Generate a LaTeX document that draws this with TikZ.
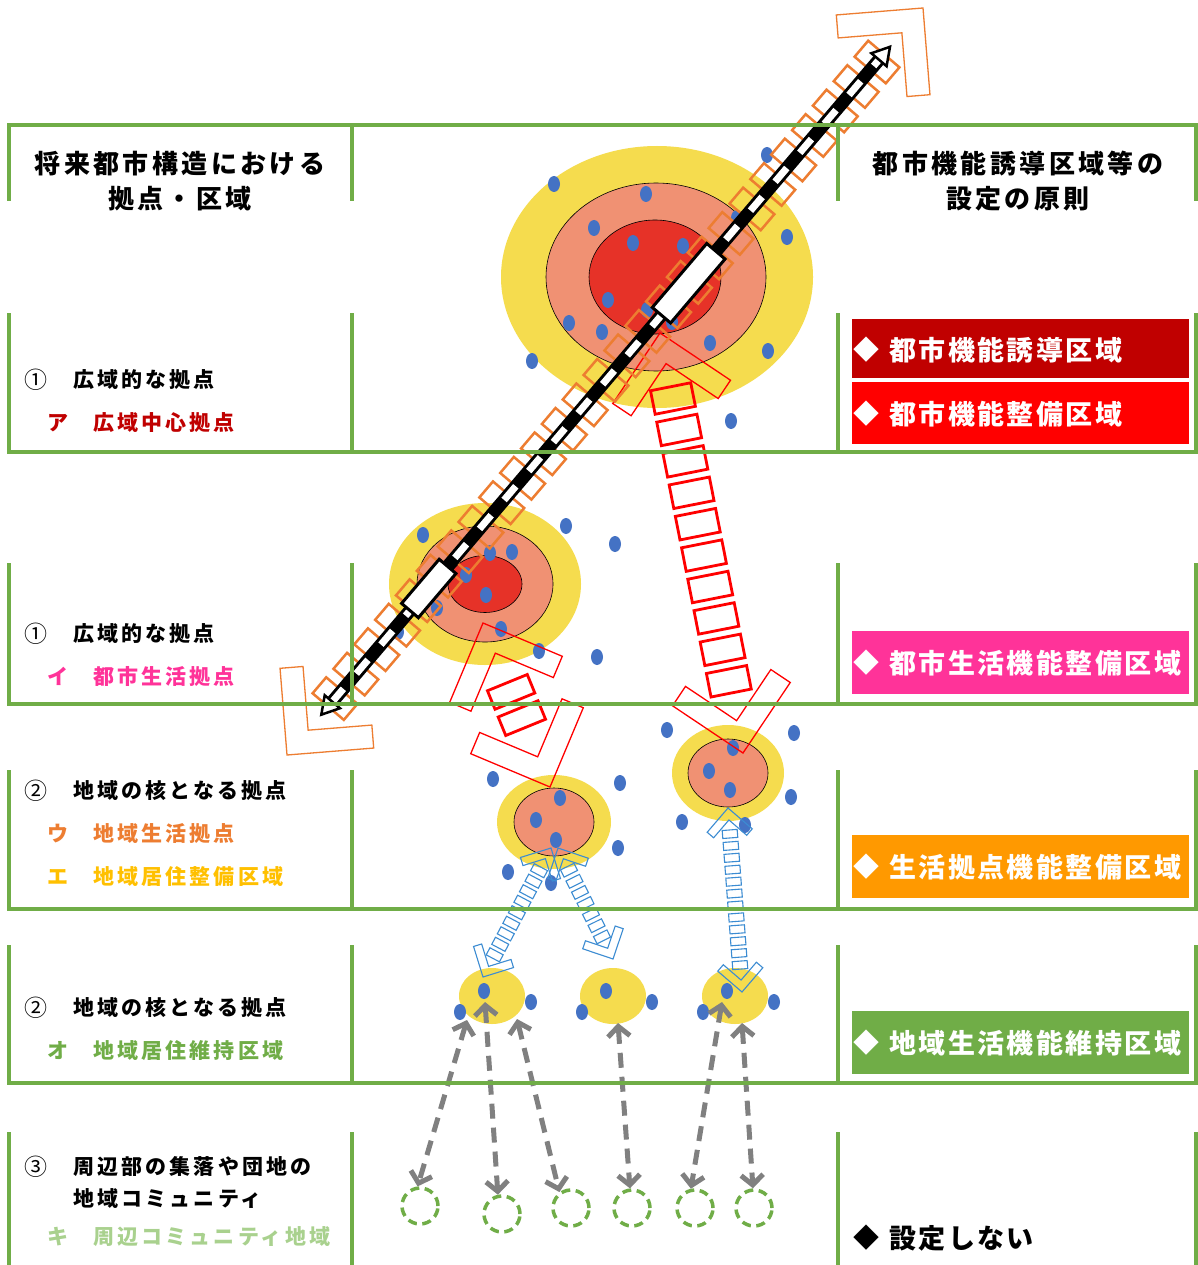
\documentclass[tikz,border=0pt]{standalone}
\usepackage{fontspec}
\setmainfont{Noto Sans CJK JP}
\usetikzlibrary{shapes.geometric,arrows.meta,calc}
\definecolor{tgreen}{HTML}{70AD47}
\definecolor{torange}{HTML}{ED7D31}
\definecolor{tyellow}{RGB}{245,220,78}
\definecolor{tsalmon}{RGB}{240,145,115}
\definecolor{tred}{RGB}{230,50,40}
\definecolor{tblue}{HTML}{4472C4}
\definecolor{lblue}{RGB}{60,140,210}
\definecolor{tgray}{RGB}{128,128,128}
\definecolor{dred}{HTML}{C00000}
\definecolor{tpink}{HTML}{FF3399}
\definecolor{tgold}{HTML}{FFC000}
\definecolor{tlgreen}{HTML}{A9D18E}
\definecolor{bred}{HTML}{FF0000}
\definecolor{borange}{HTML}{FF9900}
\tikzset{
  cha/.store in=\chA, cht/.store in=\chT, cha=40, cht=10,
  chev/.pic={\draw[pic actions, line join=miter] (0,0) -- (-\chA,\chA) -- ({-\chA-\chT},{\chA-\chT}) -- ({-2*\chT},0) -- ({-\chA-\chT},{-\chA+\chT}) -- (-\chA,-\chA) -- cycle;},
  railtip/.pic={\draw[black, fill=white, line width=2.5, line join=miter] (0,0) -- (-17,10) -- (-17,-10) -- cycle;},
  ell/.style={ellipse, inner sep=0, outer sep=0},
  ring/.style={ell, draw=black, line width=0.6},
  dot/.style={ellipse, inner sep=0, fill=tblue, minimum width=12, minimum height=16},
  cdash/.style={circle, draw=tgreen, line width=3.5, dash pattern=on 9pt off 5.5pt, minimum size=36, inner sep=0},
  garrow/.style={tgray, line width=5, dash pattern=on 15pt off 9pt, arrows={Straight Barb[length=10pt,width=22pt]-Straight Barb[length=10pt,width=22pt]}},
  obox/.style={draw=torange, line width=2.5, minimum width=21, minimum height=41, inner sep=0, sloped, allow upside down},
  rbox/.style={draw=bred, line width=2.8, minimum width=24, minimum height=41, inner sep=0, sloped, allow upside down},
  bbox/.style={draw=lblue, line width=1.1, minimum width=8, minimum height=15, inner sep=0, sloped, allow upside down},
  wrect/.style={draw=black, fill=white, line width=3, inner sep=0, sloped, allow upside down},
  ochev/.style={sloped, allow upside down, torange, line width=1.3, cha=61.5, cht=16.3},
  rchev/.style={sloped, allow upside down, bred, line width=1.3, cha=60, cht=16.5},
  bchev/.style={sloped, allow upside down, lblue, line width=1.1, cha=22.6, cht=6},
  num/.style={inner sep=0, anchor=west, font=\fontsize{23}{25}\selectfont},
  lbl/.style={inner sep=0, anchor=west, font=\fontsize{21}{25}\selectfont\bfseries\addfontfeature{LetterSpace=15}},
  hdr/.style={align=center, inner sep=0, font=\fontsize{26}{35}\selectfont\bfseries\addfontfeature{LetterSpace=13}},
  colbox/.style={inner sep=0, minimum width=337},
  dia/.style={inner sep=0, anchor=west, font=\fontsize{26}{30}\selectfont},
  btxt/.style={inner sep=0, anchor=west, font=\fontsize{27}{30}\selectfont\bfseries\addfontfeature{LetterSpace=9}},
}
\begin{document}
\begin{tikzpicture}[x=1pt,y=-1pt]
\useasboundingbox (0,0) rectangle (1198,1265);
\fill[white] (0,0) rectangle (1198,1265);

% ---- zones (ellipses)
\node[ell, fill=tyellow, minimum width=312, minimum height=262] (bigY) at (657,277) {};
\node[ring, fill=tsalmon, minimum width=220, minimum height=188] (bigS) at (656,277) {};
\node[ring, fill=tred, minimum width=132, minimum height=114] (bigR) at (655,277) {};
\node[ell, fill=tyellow, minimum width=192, minimum height=162] (midY) at (485,584) {};
\node[ring, fill=tsalmon, minimum width=136, minimum height=116] (midS) at (485,584) {};
\node[ring, fill=tred, minimum width=74, minimum height=57] (midR) at (485,584) {};
\node[ell, fill=tyellow, minimum width=114, minimum height=94] (uY) at (554,822) {};
\node[ring, fill=tsalmon, minimum width=80, minimum height=68] (uS) at (554,822) {};
\node[ell, fill=tyellow, minimum width=112, minimum height=96] (rY) at (728,773) {};
\node[ring, fill=tsalmon, minimum width=80, minimum height=68] (rS) at (728,773) {};
\node[ell, fill=tyellow, minimum width=66, minimum height=56] (o1) at (492,996) {};
\node[ell, fill=tyellow, minimum width=66, minimum height=56] (o2) at (613,996) {};
\node[ell, fill=tyellow, minimum width=66, minimum height=56] (o3) at (735,996) {};

% ---- dots
\foreach \p [count=\k] in {(554,184),(646,194),(594,228),(633,243),(683,246),(767,155),(787,237),(608,300),(569,323),(602,332),(710,343),(768,351),(532,361),(731,421),(737,218),(647,310),(672,322),
 (423,535),(566,526),(615,544),(512,552),(490,553),(466,575),(486,595),(437,608),(501,629),(539,651),(597,657),(398,632),
 (493,779),(620,783),(560,798),(536,820),(618,848),(556,840),(508,872),(551,883),(667,730),(794,733),(733,748),(709,771),(730,790),(791,797),(682,822),(745,825),
 (484,991),(460,1012),(531,1002),(606,991),(582,1012),(652,1002),(727,991),(703,1012),(774,1002)}
  \node[dot] (d\k) at \p {};

% ---- community circles
\node[cdash] (c1) at (420,1206) {};
\node[cdash] (c2) at (502,1214) {};
\node[cdash] (c3) at (571,1208) {};
\node[cdash] (c4) at (632,1208) {};
\node[cdash] (c5) at (695,1208) {};
\node[cdash] (c6) at (754,1208) {};

% ---- gray dashed arrows
\coordinate (g1) at (467,1020);
\coordinate (g2) at (485,1002);
\coordinate (g3) at (517,1019);
\coordinate (g4) at (618,1023);
\coordinate (g5) at (722,1002);
\coordinate (g6) at (742,1023);
\draw[garrow] (g1) -- (c1.97);
\draw[garrow] (g2) -- (c2.102);
\draw[garrow] (g3) -- (c3.126);
\draw[garrow] (g4) -- (c4.96);
\draw[garrow] (g5) -- (c5.102);
\draw[garrow] (g6) -- (c6.93);

% ---- blue chains
\coordinate (B1A) at (551,848); \coordinate (B1B) at (483,977);
\coordinate (B2A) at (558,848); \coordinate (B2B) at (613,959);
\coordinate (B3A) at (728,808); \coordinate (B3B) at (742,992);
\foreach \i [evaluate=\i as \tp using 0.176+\i*0.0815] in {0,...,8}
  \path (B1A) -- (B1B) node[bbox, pos=\tp] (bl\i) {};
\foreach \i [evaluate=\i as \tp using 0.2+\i*0.1] in {0,...,6}
  \path (B2A) -- (B2B) node[bbox, pos=\tp] (bm\i) {};
\foreach \i [evaluate=\i as \tp using 0.141+\i*0.0648] in {0,...,11}
  \path (B3A) -- (B3B) node[bbox, pos=\tp] (br\i) {};
\path (B1A) -- (B1B) pic[pos=1, bchev] {chev};
\path (B1B) -- (B1A) pic[pos=1, bchev] {chev};
\path (B2A) -- (B2B) pic[pos=1, bchev] {chev};
\path (B2B) -- (B2A) pic[pos=1, bchev] {chev};
\path (B3A) -- (B3B) pic[pos=1, bchev] {chev};
\path (B3B) -- (B3A) pic[pos=1, bchev] {chev};

% ---- red chains
\coordinate (RA) at (660,333); \coordinate (RB) at (743,753);
\foreach \i [evaluate=\i as \tp using 0.156+\i*0.0748] in {0,...,9}
  \path (RA) -- (RB) node[rbox, pos=\tp] (rr\i) {};
\path (RA) -- (RB) pic[pos=1, rchev] {chev};
\path (RB) -- (RA) pic[pos=1, rchev, cht=15.6] {chev};
\coordinate (QA) at (483,623); \coordinate (QB) at (550,787);
\path (QA) -- (QB) node[rbox, minimum width=20, minimum height=43, pos=0.42] (rq1) {}
                   node[rbox, minimum width=20, minimum height=43, pos=0.58] (rq2) {};
\path (QA) -- (QB) pic[pos=1, rchev, cha=60.8, cht=16.3] {chev};
\path (QB) -- (QA) pic[pos=1, rchev, cha=60.8, cht=16.3] {chev};

% ---- orange chain along railway
\coordinate (O1) at (287,755); \coordinate (O2) at (923,8);
\foreach \i [evaluate=\i as \tp using 0.0755+\i*0.03277] in {0,...,26}
  \path (O1) -- (O2) node[obox, pos=\tp] (ob\i) {};
\path (O1) -- (O2) pic[pos=1, ochev] {chev};
\path (O2) -- (O1) pic[pos=1, ochev] {chev};

% ---- railway
\coordinate (rb) at (321.3,714.7); \coordinate (rt) at (890,46.8);
\draw[line width=13] ($(rb)!14pt!(rt)$) -- ($(rt)!14pt!(rb)$);
\draw[white, line width=7, dash pattern=on 18pt off 20pt] ($(rb)!16pt!(rt)$) -- ($(rt)!16pt!(rb)$);
\path (rb) -- (rt) pic[pos=1, sloped, allow upside down] {railtip};
\path (rt) -- (rb) pic[pos=1, sloped, allow upside down] {railtip};
\path (rb) -- (rt) node[wrect, minimum width=84, minimum height=24, pos=0.646] (st1) {}
                   node[wrect, minimum width=58, minimum height=22, pos=0.189] (st2) {};

% ---- table lines
\begin{scope}[tgreen, line width=4]
  \foreach \y in {125,452,704,909,1083} \draw (7,\y) -- (1198,\y);
  \foreach \x in {9,352,838,1196} {
    \draw (\x,125) -- (\x,201);
    \draw (\x,313) -- (\x,452);
    \draw (\x,563) -- (\x,704);
    \draw (\x,770) -- (\x,909);
    \draw (\x,945) -- (\x,1083);
    \draw (\x,1132) -- (\x,1265);
  }
\end{scope}

% ---- headers
\node[hdr] (hL) at (180,181) {将来都市構造における\\拠点・区域};
\node[hdr] (hR) at (1018,181) {都市機能誘導区域等の\\設定の原則};

% ---- left column
\node[num] (n1) at (24,380) {①};
\node[lbl] (t1) at (73,380) {広域的な拠点};
\node[lbl, text=dred] (k1) at (47,423) {ア};
\node[lbl, text=dred] (s1) at (93,423) {広域中心拠点};
\node[num] (n2) at (24,634) {①};
\node[lbl] (t2) at (73,634) {広域的な拠点};
\node[lbl, text=tpink] (k2) at (47,676) {イ};
\node[lbl, text=tpink] (s2) at (93,676) {都市生活拠点};
\node[num] (n3) at (24,791) {②};
\node[lbl] (t3) at (73,791) {地域の核となる拠点};
\node[lbl, text=torange] (k3) at (47,834) {ウ};
\node[lbl, text=torange] (s3) at (93,834) {地域生活拠点};
\node[lbl, text=tgold] (k3b) at (47,877) {エ};
\node[lbl, text=tgold] (s3b) at (93,877) {地域居住整備区域};
\node[num] (n4) at (24,1008) {②};
\node[lbl] (t4) at (73,1008) {地域の核となる拠点};
\node[lbl, text=tgreen] (k4) at (47,1051) {オ};
\node[lbl, text=tgreen] (s4) at (93,1051) {地域居住維持区域};
\node[num] (n5) at (24,1167) {③};
\node[lbl] (t5) at (73,1167) {周辺部の集落や団地の};
\node[lbl] (t5b) at (73,1198) {地域コミュニティ};
\node[lbl, text=tlgreen] (k5) at (47,1237) {キ};
\node[lbl, text=tlgreen] (s5) at (93,1237) {周辺コミュニティ地域};

% ---- right column
\node[colbox, fill=dred, minimum height=59] (b1) at (1020.5,348.5) {};
\node[colbox, fill=bred, minimum height=62] (b2) at (1020.5,413) {};
\node[colbox, fill=tpink, minimum height=63] (b3) at (1020.5,662.5) {};
\node[colbox, fill=borange, minimum height=63] (b4) at (1020.5,866.5) {};
\node[colbox, fill=tgreen, minimum height=63] (b5) at (1020.5,1042.5) {};
\node[dia, text=white] (m1) at (853,350) {◆};
\node[btxt, text=white] (x1) at (889,350) {都市機能誘導区域};
\node[dia, text=white] (m2) at (853,414) {◆};
\node[btxt, text=white] (x2) at (889,414) {都市機能整備区域};
\node[dia, text=white] (m3) at (853,663) {◆};
\node[btxt, text=white] (x3) at (889,663) {都市生活機能整備区域};
\node[dia, text=white] (m4) at (853,867) {◆};
\node[btxt, text=white] (x4) at (889,867) {生活拠点機能整備区域};
\node[dia, text=white] (m5) at (853,1043) {◆};
\node[btxt, text=white] (x5) at (889,1043) {地域生活機能維持区域};
\node[dia] (m6) at (853,1238) {◆};
\node[btxt] (x6) at (889,1238) {設定しない};
\end{tikzpicture}
\end{document}
